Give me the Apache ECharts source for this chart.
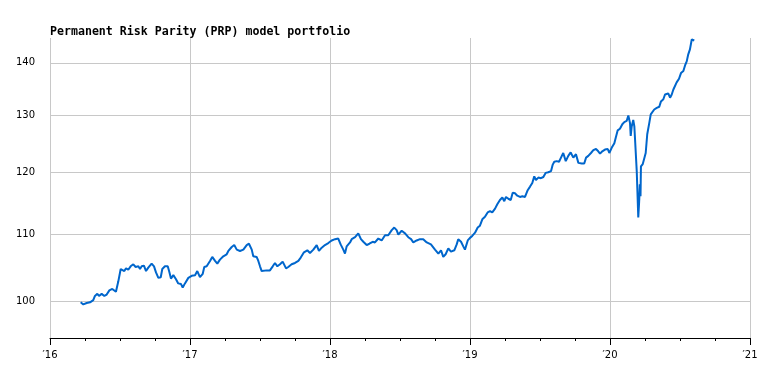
<!DOCTYPE html>
<html><head><meta charset="utf-8">
<script src="https://cdn.jsdelivr.net/npm/echarts@6/dist/echarts.min.js"></script>
<style>html,body{margin:0;padding:0;background:#fff}#c{width:783px;height:379px}</style>
</head><body><div id="c"></div>
<script>
const TITLE = 'Permanent Risk Parity (PRP) model portfolio';
const yTicks = [100, 110, 120, 130, 140];
const xMin = 2016, xMax = 2021;
// dates as decimal years
const years = [
2016.219,2016.238,2016.250,2016.262,2016.286,2016.309,2016.321,2016.338,2016.350,2016.369,2016.388,2016.405,2016.424,2016.445,2016.459,2016.471,2016.488,2016.505,2016.519,2016.531,2016.543,2016.559,2016.576,2016.595,2016.612,2016.631,2016.643,2016.655,2016.671,2016.686,2016.702,2016.726,2016.743,2016.757,2016.774,2016.791,2016.802,2016.821,2016.841,2016.852,2016.864,2016.881,2016.900,2016.916,2016.936,2016.948,2016.964,2016.988,2017.012,2017.036,2017.052,2017.071,2017.091,2017.102,
2017.119,2017.143,2017.159,2017.179,2017.195,2017.214,2017.238,2017.262,2017.274,2017.298,2017.316,2017.334,2017.357,2017.381,2017.405,2017.421,2017.441,2017.452,2017.476,2017.488,2017.500,2017.512,2017.524,2017.548,2017.571,2017.591,2017.607,2017.624,2017.643,2017.662,2017.686,2017.702,2017.726,2017.750,2017.774,2017.791,2017.814,2017.838,2017.857,2017.881,2017.905,2017.921,2017.941,2017.964,2017.988,
2018.012,2018.036,2018.059,2018.076,2018.095,2018.107,2018.119,2018.143,2018.155,2018.179,2018.202,2018.221,2018.238,2018.262,2018.281,2018.305,2018.321,2018.345,2018.369,2018.393,2018.416,2018.441,2018.459,2018.476,2018.488,2018.512,2018.536,2018.559,2018.579,2018.595,2018.619,2018.643,2018.666,2018.691,2018.721,2018.750,2018.774,2018.793,2018.809,2018.826,2018.845,2018.864,2018.888,2018.905,2018.916,2018.936,2018.952,2018.964,2018.984,2018.995,
2019.000,2019.016,2019.036,2019.055,2019.071,2019.088,2019.107,2019.126,2019.143,2019.159,2019.179,2019.195,2019.214,2019.231,2019.245,2019.257,2019.274,2019.291,2019.305,2019.321,2019.338,2019.357,2019.374,2019.393,2019.412,2019.429,2019.445,2019.459,2019.471,2019.488,2019.507,2019.524,2019.541,2019.559,2019.579,2019.591,2019.602,2019.619,2019.636,2019.650,2019.666,2019.684,2019.702,2019.719,2019.738,2019.757,2019.774,2019.798,2019.816,2019.829,2019.845,2019.864,2019.881,2019.900,2019.916,2019.929,2019.945,2019.964,2019.984,2019.995,
2020.012,2020.031,2020.041,2020.055,2020.071,2020.088,2020.102,2020.119,2020.131,2020.143,2020.148,2020.155,2020.166,2020.174,2020.184,2020.191,2020.195,2020.202,2020.209,2020.213,2020.218,2020.221,2020.234,2020.245,2020.255,2020.266,2020.281,2020.291,2020.302,2020.316,2020.334,2020.352,2020.364,2020.381,2020.393,2020.405,2020.416,2020.429,2020.441,2020.452,2020.464,2020.476,2020.493,2020.507,2020.524,2020.536,2020.548,2020.559,2020.571,2020.584,2020.593,2020.602
];
const values = [
99.9,99.6,99.4,99.8,99.9,100.2,100.8,101.1,100.8,101.1,100.8,101.0,101.6,101.8,102.0,101.4,102.9,104.7,104.9,104.4,104.8,104.6,105.1,105.4,105.0,105.1,104.7,105.1,105.2,104.4,104.9,105.5,105.1,104.2,103.4,103.5,104.7,105.1,105.1,104.3,103.3,103.8,103.2,102.6,102.5,102.0,102.6,103.4,103.7,103.8,104.4,103.5,104.0,105.0,
105.1,105.9,106.5,105.9,105.5,106.1,106.6,106.9,107.4,108.0,108.3,107.6,107.4,107.6,108.3,108.5,107.6,106.6,106.5,105.9,105.1,104.4,104.3,104.5,104.5,105.1,105.6,105.1,105.4,105.8,104.8,105.0,105.4,105.6,105.9,106.4,107.2,107.5,107.1,107.6,108.3,107.4,107.9,108.3,108.6,
109.0,109.2,109.3,108.4,107.6,107.0,108.1,108.7,109.2,109.5,110.1,109.2,108.8,108.3,108.5,108.8,108.7,109.3,109.0,109.8,109.8,110.6,111.0,110.6,109.9,110.5,110.1,109.5,109.2,108.7,109.0,109.2,109.2,108.7,108.4,107.6,107.0,107.5,106.5,106.9,107.8,107.3,107.5,108.4,109.2,108.8,108.1,107.6,109.0,109.3,
109.4,109.7,110.2,111.0,111.3,112.3,112.7,113.4,113.6,113.4,114.0,114.7,115.4,115.8,115.2,115.9,115.6,115.4,116.6,116.5,116.1,115.9,116.0,115.9,117.0,117.6,118.2,119.3,118.7,119.1,119.0,119.2,119.9,120.0,120.2,121.3,121.8,121.9,121.8,122.5,123.3,121.9,122.8,123.4,122.5,123.1,121.6,121.5,121.5,122.5,122.8,123.3,123.8,124.0,123.6,123.2,123.6,123.9,124.0,123.3,
124.2,125.0,126.0,127.3,127.6,128.4,128.8,129.0,130.0,128.6,126.3,128.0,129.2,128.0,128.2,120.2,117.4,112.6,115.5,118.0,116.0,121.0,121.4,121.6,123.3,126.6,128.7,130.2,130.5,131.1,131.4,131.6,132.6,133.0,133.9,133.6,134.1,133.3,133.9,134.8,135.0,136.2,136.9,138.0,138.4,139.5,140.3,141.7,142.7,144.7,144.8,144.5
];
const chart = echarts.init(document.getElementById('c'), null, {renderer: 'canvas'});
chart.setOption({
  animation: false,
  backgroundColor: '#fff',
  title: {
    text: TITLE, left: 50, top: 26, padding: 0,
    textStyle: {fontFamily: 'DejaVu Sans Mono', fontWeight: 'bold', fontSize: 11.6, color: '#000'}
  },
  grid: {left: 50, right: 33, top: 38, bottom: 41, containLabel: false, outerBoundsMode: 'none'},
  xAxis: {
    type: 'value', min: xMin, max: xMax, interval: 1,
    axisLine: {show: true, lineStyle: {color: '#000', width: 1}},
    axisTick: {show: true, length: 7, lineStyle: {color: '#000', width: 1}},
    minorTick: {show: true, splitNumber: 4, length: 3, lineStyle: {color: '#000', width: 1}},
    splitLine: {show: true, lineStyle: {color: '#c8c8c8', width: 1}},
    minorSplitLine: {show: false},
    axisLabel: {
      margin: 12, fontFamily: 'DejaVu Sans', fontSize: 10, color: '#000',
      formatter: v => '\u2032' + String(v).slice(2)
    }
  },
  yAxis: {
    type: 'log', logBase: 10, min: 95, max: 145,
    axisLine: {show: false},
    axisTick: {show: false, customValues: yTicks},
    splitLine: {show: true, lineStyle: {color: '#c8c8c8', width: 1}},
    axisLabel: {customValues: yTicks, margin: 15, fontFamily: 'DejaVu Sans', fontSize: 10, color: '#000'}
  },
  series: [{
    type: 'line', showSymbol: false, symbol: 'none',
    data: years.map((t, i) => [t, values[i]]),
    lineStyle: {color: '#0066cc', width: 2},
    itemStyle: {color: '#0066cc'}
  }]
});
</script>
</body></html>
